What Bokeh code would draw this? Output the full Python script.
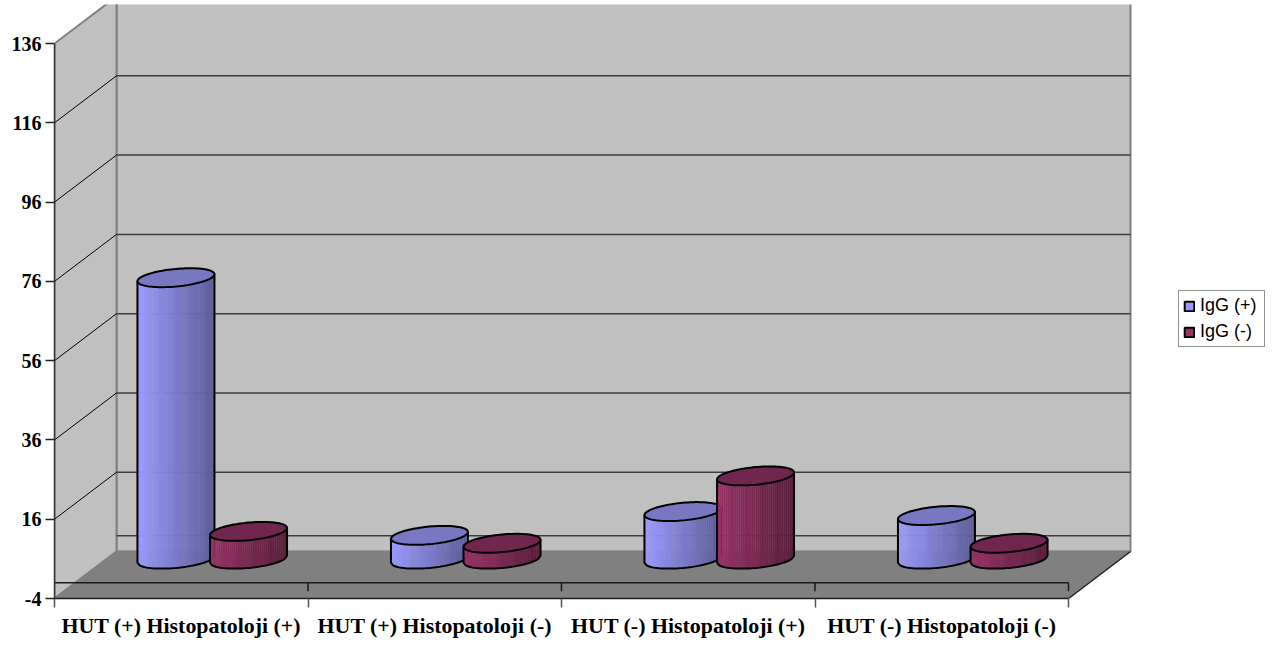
import numpy as np
from bokeh.embed import file_html
from bokeh.models import FixedTicker, Legend, LegendItem, Range1d
from bokeh.plotting import figure
from bokeh.resources import INLINE

# Chart data
categories = ["HUT (+) Histopatoloji (+)", "HUT (+) Histopatoloji (-)",
              "HUT (-) Histopatoloji (+)", "HUT (-) Histopatoloji (-)"]
igg_pos = [71, 6, 12, 11]
igg_neg = [7, 4, 21, 4]
value_ticks = [-4, 16, 36, 56, 76, 96, 116, 136]

# Canvas and plot area
WIDTH, HEIGHT = 1281, 645
LEFT, TOP, BOTTOM = 54, 4, 47
CAT_PX = 253.5
VAL_PX = 3.964

# Perspective offset between the front and the back of the box
DEPTH_X = 62 / CAT_PX
DEPTH_Y = 47 / VAL_PX

# Cylinder shape, in axis units
BAR_OFFSET = 36.3 / CAT_PX
RADIUS_X = 38.5 / CAT_PX
RADIUS_Y = 8.8 / VAL_PX
TILT_Y = 3.5 / VAL_PX

x_max = (WIDTH - LEFT) / CAT_PX
y_min, y_max = value_ticks[0], value_ticks[0] + (HEIGHT - TOP - BOTTOM) / VAL_PX

p = figure(width=WIDTH, height=HEIGHT, output_backend="svg", toolbar_location=None, tools="",
           x_range=Range1d(0, x_max), y_range=Range1d(y_min, y_max),
           min_border_left=LEFT, min_border_right=0, min_border_top=TOP, min_border_bottom=BOTTOM,
           outline_line_color=None, background_fill_color="white", border_fill_color="white")
p.grid.visible = False

n = len(categories)
y0 = value_ticks[0]
y1 = value_ticks[-1]

# Box: back wall, side wall and floor
p.patch([DEPTH_X, DEPTH_X + n, DEPTH_X + n, DEPTH_X],
        [y0 + DEPTH_Y, y0 + DEPTH_Y, y1 + DEPTH_Y, y1 + DEPTH_Y],
        fill_color="#C0C0C0", line_color="#808080", line_width=2)
p.patch([0, DEPTH_X, DEPTH_X, 0], [y0, y0 + DEPTH_Y, y1 + DEPTH_Y, y1],
        fill_color="#C0C0C0", line_color="#808080", line_width=2)
p.patch([0, n, n + DEPTH_X, DEPTH_X], [y0, y0, y0 + DEPTH_Y, y0 + DEPTH_Y],
        fill_color="#808080", line_color="#808080", line_width=1.5)
p.line([n, n + DEPTH_X], [y0, y0 + DEPTH_Y], line_color="#222222", line_width=1.2)

# Grid lines on the back wall and the side wall
back_values = [0] + value_ticks[1:-1]
p.segment(x0=[DEPTH_X] * len(back_values), x1=[DEPTH_X + n] * len(back_values),
          y0=[v + DEPTH_Y for v in back_values], y1=[v + DEPTH_Y for v in back_values],
          line_color="#3c3c3c", line_width=1.5)
side_values = value_ticks[1:-1]
p.segment(x0=[0] * len(side_values), x1=[DEPTH_X] * len(side_values),
          y0=side_values, y1=[v + DEPTH_Y for v in side_values],
          line_color="black", line_width=1)

# Category baseline at zero with its short dividers
p.line([0, n], [0, 0], line_color="#1a1a1a", line_width=1.5)
p.segment(x0=list(range(1, n + 1)), x1=list(range(1, n + 1)),
          y0=[0] * n, y1=[-2.2] * n, line_color="#1a1a1a", line_width=1.5)


def blend(start, stop, f):
    return "#%02x%02x%02x" % tuple(int(round(a + (b - a) * f)) for a, b in zip(start, stop))


def cylinder(cx, value, light, dark, top_fill):
    """Draw one upright cylinder standing on the floor, halfway into the box."""
    base = DEPTH_Y / 2
    top = value + DEPTH_Y / 2

    # Lower edge of the base ellipse, sampled across the cylinder's width
    edges = np.linspace(-1, 1, 37)
    angles = np.arccos(-edges)
    bottom_y = base - RADIUS_Y * np.sin(angles) + TILT_Y * edges
    bottom_x = cx + RADIUS_X * edges

    # Side surface as narrow strips running from light to dark
    xs, ys, fills = [], [], []
    for i in range(len(edges) - 1):
        f = (0.5 * (edges[i] + edges[i + 1]) + 1) / 2
        xs.append([bottom_x[i], bottom_x[i + 1], bottom_x[i + 1], bottom_x[i]])
        ys.append([bottom_y[i], bottom_y[i + 1], top + TILT_Y * edges[i + 1], top + TILT_Y * edges[i]])
        fills.append(blend(light, dark, f))
    p.patches(xs, ys, fill_color=fills, line_color=fills, line_width=0.35)

    # Outline of the sides and the bottom edge
    outline_x = [cx - RADIUS_X] + list(bottom_x) + [cx + RADIUS_X]
    outline_y = [top - TILT_Y] + list(bottom_y) + [top + TILT_Y]
    p.line(outline_x, outline_y, line_color="black", line_width=2)

    # Tilted top face
    t = np.linspace(0, 2 * np.pi, 97)
    p.patch(cx + RADIUS_X * np.cos(t), top + RADIUS_Y * np.sin(t) + TILT_Y * np.cos(t),
            fill_color=top_fill, line_color="black", line_width=2)


BLUE = ((0x9C, 0x9C, 0xFF), (0x5C, 0x5C, 0x99), "#7777C2")
RED = ((0x99, 0x33, 0x66), (0x59, 0x1E, 0x3C), "#70264F")

for i in range(n):
    cx = i + 0.5 + DEPTH_X / 2
    cylinder(cx - BAR_OFFSET, igg_pos[i], *BLUE)
    cylinder(cx + BAR_OFFSET, igg_neg[i], *RED)

# Axes
xaxis = p.xaxis[0]
xaxis.ticker = FixedTicker(ticks=[i + 0.5 for i in range(n)], minor_ticks=list(range(n + 1)))
xaxis.major_label_overrides = {i + 0.5: c for i, c in enumerate(categories)}
xaxis.bounds = (0, n)
xaxis.axis_line_color = "#1a1a1a"
xaxis.axis_line_width = 1.5
xaxis.major_tick_out = 0
xaxis.major_tick_in = 0
xaxis.minor_tick_out = 9
xaxis.minor_tick_in = 0
xaxis.minor_tick_line_color = "#555555"
xaxis.minor_tick_line_width = 1.5
xaxis.major_label_text_font = "Liberation Serif"
xaxis.major_label_text_font_style = "bold"
xaxis.major_label_text_font_size = "21.9px"
xaxis.major_label_text_color = "black"
xaxis.major_label_standoff = 5

yaxis = p.yaxis[0]
yaxis.ticker = FixedTicker(ticks=value_ticks, minor_ticks=[])
yaxis.major_label_overrides = {v: str(v) for v in value_ticks}
yaxis.bounds = (y0, y1)
yaxis.axis_line_color = "#333333"
yaxis.axis_line_width = 1.5
yaxis.major_tick_out = 9
yaxis.major_tick_in = 0
yaxis.major_tick_line_color = "#222222"
yaxis.major_tick_line_width = 1.5
yaxis.major_label_text_font = "Liberation Serif"
yaxis.major_label_text_font_style = "bold"
yaxis.major_label_text_font_size = "20px"
yaxis.major_label_text_color = "black"
yaxis.major_label_standoff = 4

# Legend swatches
swatch_pos = p.quad(left=[np.nan], right=[np.nan], top=[np.nan], bottom=[np.nan],
                    fill_color="#9999FF", line_color="black", line_width=2)
swatch_neg = p.quad(left=[np.nan], right=[np.nan], top=[np.nan], bottom=[np.nan],
                    fill_color="#993366", line_color="black", line_width=2)
legend = Legend(items=[LegendItem(label="IgG (+)", renderers=[swatch_pos]),
                       LegendItem(label="IgG (-)", renderers=[swatch_neg])],
                location=(1124, 251), orientation="vertical",
                glyph_width=12, glyph_height=12, spacing=5, padding=4, margin=0,
                label_standoff=5, label_width=60, label_text_font="Liberation Sans", label_text_font_size="18px",
                label_text_color="black", label_height=18,
                border_line_color="#222222", border_line_width=1, background_fill_alpha=1)
p.add_layout(legend)

open("out.html", "w").write(file_html(p, INLINE))
